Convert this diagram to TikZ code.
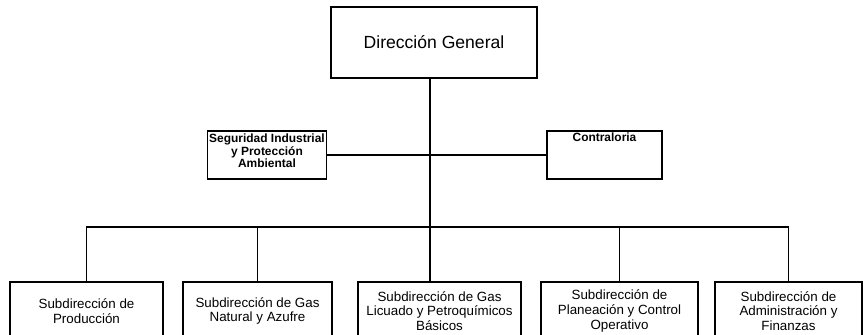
\documentclass[tikz,border=0pt]{standalone}
\usepackage{fontspec}
\setmainfont{Liberation Sans}
\usetikzlibrary{positioning,calc}

\begin{document}
\begin{tikzpicture}[
    box/.style={draw, line width=0.8pt, inner sep=1pt, align=center},
    boss/.style={box, minimum width=4.12cm, minimum height=1.42cm, font=\fontsize{10}{12}\selectfont},
    staff/.style={box, minimum width=2.3cm, minimum height=0.96cm, font=\bfseries\fontsize{6.8}{6.4}\selectfont},
    sub/.style={box, minimum height=1.16cm, font=\fontsize{7.6}{8.4}\selectfont},
    link/.style={line width=0.9pt}]
      \clip (0,0) rectangle (17.26,6.7);
      \node[boss] (dg) at (8.68,5.85) {Dirección General};
      \node[staff, inner ysep=0pt, text depth=5pt] (seg) at (5.34,3.6) {Seguridad Industrial\\y Protección\\Ambiental};
      \node[staff, text height=5pt, text depth=20pt] (con) at (12.09,3.6) {Contraloria};
      \node[sub, minimum width=3.06cm] (pro) at (1.73,0.48) {Subdirección de\\Producción};
      \node[sub, minimum width=2.98cm] (gas) at (5.15,0.48) {Subdirección de Gas\\Natural y Azufre};
      \node[sub, minimum width=3.26cm] (lic) at (8.79,0.48) {Subdirección de Gas\\Licuado y Petroquímicos\\Básicos};
      \node[sub, minimum width=3.14cm] (pla) at (12.39,0.48) {Subdirección de\\Planeación y Control\\Operativo};
      \node[sub, minimum width=2.94cm] (adm) at (15.77,0.48) {Subdirección de\\Administración y\\Finanzas};
      \coordinate (trunk) at (8.6,2.16);
      \draw[link] (dg.south -| trunk) -- (lic.north -| trunk);
      \draw[link] (seg.east) -- (con.west);
      \draw[link] (pro.north) |- (trunk) -| (adm.north);
      \draw[link] (gas.north) -- (gas.north |- trunk);
      \draw[link] (pla.north) -- (pla.north |- trunk);
    \end{tikzpicture}
\end{document}
